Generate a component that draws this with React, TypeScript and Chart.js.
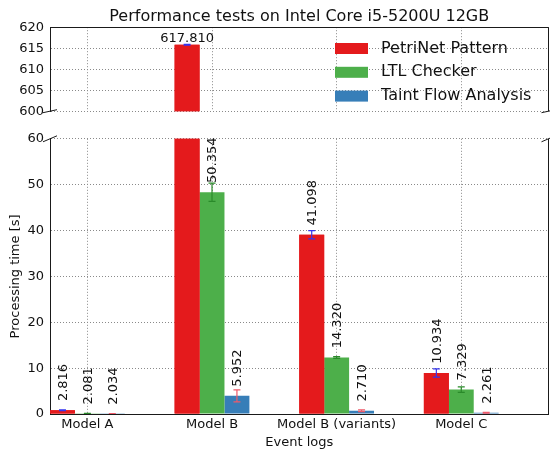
import React, { useEffect, useRef } from "react";
import { Chart, registerables } from "chart.js";
Chart.register(...registerables);

const FONT = "'DejaVu Sans', 'Liberation Sans', sans-serif";

const chartTitle = "Performance tests on Intel Core i5-5200U 12GB";
const xTitle = "Event logs";
const yTitle = "Processing time [s]";
const categories = ["Model A", "Model B", "Model B (variants)", "Model C"];
const seriesNames = ["PetriNet Pattern", "LTL Checker", "Taint Flow Analysis"];

const petriNet = [0.816, 615.81, 39.098, 8.934];
const ltlChecker = [0.081, 48.354, 12.32, 5.329];
const taintFlow = [0.034, 3.952, 0.71, 0.261];

const petriNetErr = [0.1, 0.1, 0.9, 0.9];
const ltlCheckerErr = [0.05, 2.0, 0.2, 0.6];
const taintFlowErr = [0.03, 1.3, 0.2, 0.1];

const petriNetLabels = ["2.816", "617.810", "41.098", "10.934"];
const ltlCheckerLabels = ["2.081", "50.354", "14.320", "7.329"];
const taintFlowLabels = ["2.034", "5.952", "2.710", "2.261"];

const topTicks = [600, 605, 610, 615, 620];
const bottomTicks = [0, 10, 20, 30, 40, 50, 60];

const barColors = ["#e41a1c", "#4daf4a", "#377eb8"];
const errColors = ["#3535ee", "#2a8a2a", "#ef5a6a"];
const GRID = "#8a8a8a";
const AXIS = "#1a1a1a";
const TEXT = "#111";

const seriesValues = [petriNet, ltlChecker, taintFlow];
const seriesErrs = [petriNetErr, ltlCheckerErr, taintFlowErr];
const seriesLabels = [petriNetLabels, ltlCheckerLabels, taintFlowLabels];

function makeChart(canvas: HTMLCanvasElement, isTop: boolean) {
  const yMin = isTop ? topTicks[0] : bottomTicks[0];
  const yMax = isTop ? topTicks[topTicks.length - 1] : bottomTicks[bottomTicks.length - 1];
  const tickFont = { family: FONT, size: 13, weight: "normal" as const };

  const overlay = {
    id: "overlay",
    afterDraw(chart: any) {
      const ctx = chart.ctx as CanvasRenderingContext2D;
      const a = chart.chartArea;
      const ys = chart.scales.y;

      // redraw red bars above grid
      ctx.save();
      ctx.beginPath();
      ctx.rect(a.left, a.top, a.right - a.left, a.bottom - a.top);
      ctx.clip();
      chart.getDatasetMeta(0).data.forEach((el: any) => el.draw(ctx));

      // error bars
      seriesValues.forEach((vals, s) => {
        const meta = chart.getDatasetMeta(s);
        meta.data.forEach((el: any, i: number) => {
          const v = vals[i];
          const e = seriesErrs[s][i];
          const y1 = ys.getPixelForValue(v - e);
          const y2 = ys.getPixelForValue(v + e);
          const x = el.x;
          ctx.strokeStyle = errColors[s];
          ctx.lineWidth = 1.2;
          ctx.beginPath();
          ctx.moveTo(x, y1);
          ctx.lineTo(x, y2);
          ctx.moveTo(x - 3.5, y1);
          ctx.lineTo(x + 3.5, y1);
          ctx.moveTo(x - 3.5, y2);
          ctx.lineTo(x + 3.5, y2);
          ctx.stroke();
        });
      });
      ctx.restore();

      // value labels
      ctx.save();
      ctx.fillStyle = TEXT;
      ctx.font = `13px ${FONT}`;
      seriesValues.forEach((vals, s) => {
        const meta = chart.getDatasetMeta(s);
        meta.data.forEach((el: any, i: number) => {
          const v = vals[i];
          const txt = seriesLabels[s][i];
          if (isTop) {
            if (v >= yMin) {
              ctx.textAlign = "center";
              ctx.textBaseline = "alphabetic";
              ctx.fillText(txt, el.x, ys.getPixelForValue(v) - 3);
            }
          } else if (v < yMax) {
            const y = ys.getPixelForValue(parseFloat(txt));
            ctx.save();
            ctx.translate(el.x + 1, y);
            ctx.rotate(-Math.PI / 2);
            ctx.textAlign = "left";
            ctx.textBaseline = "middle";
            ctx.fillText(txt, 0, 0);
            ctx.restore();
          }
        });
      });
      ctx.restore();

      // spines and break marks
      ctx.save();
      ctx.strokeStyle = AXIS;
      ctx.lineWidth = 1;
      ctx.beginPath();
      const R = Math.round(a.right) - 0.5;
      if (isTop) {
        const T = Math.round(a.top) + 0.5;
        ctx.moveTo(a.left, T);
        ctx.lineTo(a.right, T);
      }
      ctx.moveTo(R, a.top);
      ctx.lineTo(R, a.bottom);
      const by = isTop ? a.bottom : a.top;
      const dy = isTop ? 1.5 : 3;
      [a.left, a.right].forEach((bx: number) => {
        ctx.moveTo(bx - 7, by + dy);
        ctx.lineTo(bx + 7, by - dy);
      });
      ctx.stroke();
      ctx.restore();

      // legend
      if (isTop) {
        ctx.save();
        ctx.font = `16px ${FONT}`;
        ctx.textAlign = "left";
        ctx.textBaseline = "middle";
        seriesNames.forEach((name, s) => {
          const cy = 48.5 + s * 23.8;
          ctx.fillStyle = barColors[s];
          ctx.fillRect(335, cy - 5.5, 33, 11);
          ctx.fillStyle = TEXT;
          ctx.fillText(name, 381, cy);
        });
        ctx.restore();
      }
    },
  };

  return new Chart(canvas, {
    type: "bar",
    data: {
      datasets: seriesNames.map((name, s) => ({
        label: name,
        data: categories.map((_, i) => ({ x: i, y: seriesValues[s][i] })),
        backgroundColor: barColors[s],
        borderWidth: 0,
        barPercentage: 1,
        categoryPercentage: 0.6,
      })),
    },
    options: {
      animation: false,
      responsive: false,
      layout: {
        padding: isTop
          ? { left: 0, right: 1.5, top: 0, bottom: 6.5 }
          : { left: 0, right: 1.5, top: 12.5, bottom: 0 },
      },
      plugins: {
        legend: { display: false },
        tooltip: { enabled: false },
        title: isTop
          ? {
              display: true,
              text: chartTitle,
              fullSize: false,
              color: TEXT,
              font: { family: FONT, size: 16, weight: "normal" },
              padding: { top: 7, bottom: 1 },
            }
          : { display: false },
      },
      scales: {
        x: {
          type: "linear",
          min: -0.3,
          max: 3.7,
          offset: false,
          z: 1,
          afterBuildTicks: (s: any) => {
            s.ticks = categories.map((_, i) => ({ value: i }));
          },
          afterFit: (s: any) => {
            s.height = isTop ? 0 : 36;
          },
          grid: { offset: false, color: GRID, lineWidth: 1, drawTicks: false, borderDash: [1, 2] },
          border: { display: !isTop, color: AXIS, width: 1, dash: [1, 2] },
          ticks: {
            display: !isTop,
            autoSkip: false,
            maxRotation: 0,
            padding: 3,
            color: TEXT,
            font: tickFont,
            callback: (v: any) => categories[Math.round(Number(v))] ?? "",
          },
          title: {
            display: !isTop,
            text: xTitle,
            color: TEXT,
            font: tickFont,
            padding: { top: 0, bottom: 0 },
          },
        },
        y: {
          type: "linear",
          min: yMin,
          max: yMax,
          z: 1,
          afterBuildTicks: (s: any) => {
            s.ticks = (isTop ? topTicks : bottomTicks).map((v) => ({ value: v }));
          },
          afterFit: (s: any) => {
            s.width = 50;
          },
          grid: { color: GRID, lineWidth: 1, drawTicks: false, borderDash: [1, 2] },
          border: { display: true, color: AXIS, width: 1, dash: [1, 2] },
          ticks: {
            padding: 6,
            color: TEXT,
            font: tickFont,
            callback: (v: any) => String(v),
          },
          title: {
            display: !isTop,
            text: yTitle,
            color: TEXT,
            font: tickFont,
            padding: { top: 8, bottom: 0 },
          },
        },
      },
    } as any,
    plugins: [overlay],
  });
}

export default function App() {
  const topRef = useRef<HTMLCanvasElement>(null);
  const botRef = useRef<HTMLCanvasElement>(null);
  useEffect(() => {
    const charts = [makeChart(topRef.current!, true), makeChart(botRef.current!, false)];
    return () => charts.forEach((c) => c.destroy());
  }, []);
  return (
    <div style={{ position: "fixed", left: 0, top: 0, width: 550, height: 450, background: "#fff" }}>
      <canvas ref={topRef} width={550} height={125} style={{ position: "absolute", left: 0, top: 0 }} />
      <canvas ref={botRef} width={550} height={325} style={{ position: "absolute", left: 0, top: 125 }} />
    </div>
  );
}
